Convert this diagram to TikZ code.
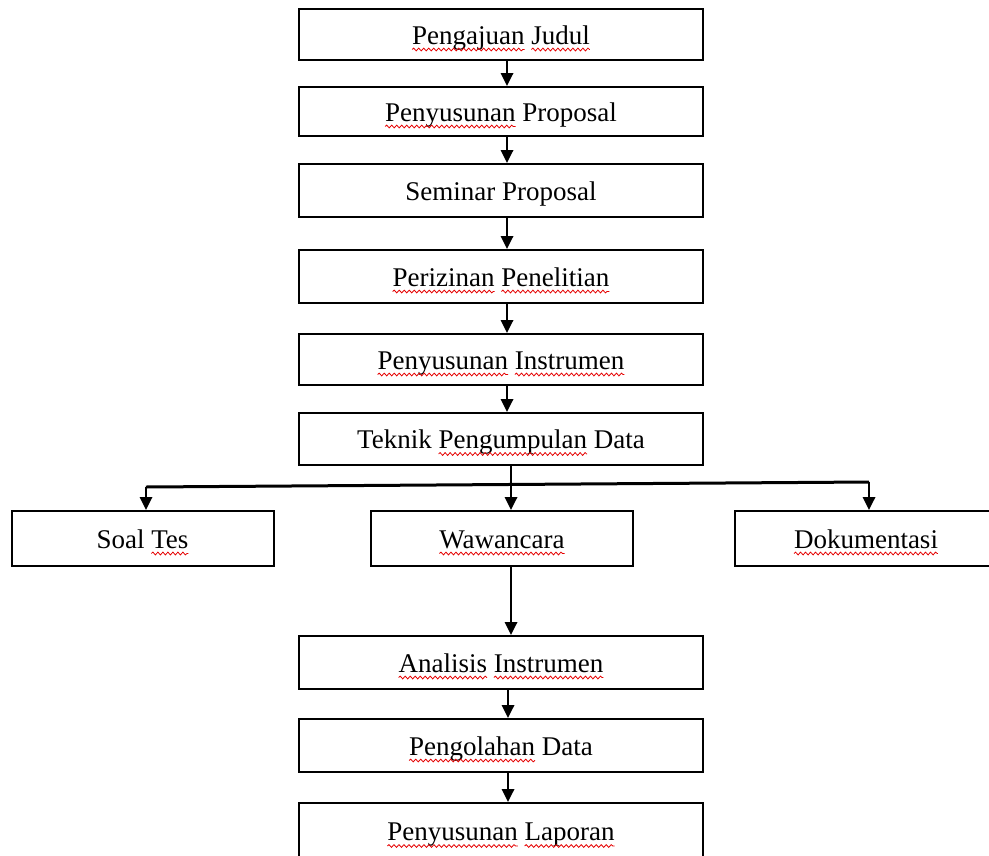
\documentclass[tikz,border=0pt]{standalone}
\usepackage{fontspec}
\setmainfont{Liberation Serif}
\usetikzlibrary{arrows.meta,decorations.pathmorphing}
\newcommand\sq[1]{\tikz[baseline=(w.base),x=1pt,y=1pt]{\node[draw=none,inner sep=0pt,outer sep=0pt,minimum width=0pt,minimum height=0pt,text height=,text depth=,anchor=base,line width=0.7pt] (w) at (0,0) {#1};\draw[overlay,red!90!black,line width=0.8pt,decorate,decoration={snake,amplitude=1.4pt,segment length=5pt}] ([yshift=-5.5pt]w.base west) -- ([yshift=-5.5pt]w.base east);}}
\tikzset{
  box/.style={draw=black, line width=2pt, inner sep=0pt, align=center,
    text height=20pt, text depth=1pt,
    font=\fontsize{27}{30}\selectfont},
  wide/.style={box, minimum width=404pt},
  small/.style={box, minimum width=262pt, minimum height=55pt},
  arr/.style={line width=1.8pt, -{Triangle[width=12.5pt,length=13pt]}},
  bar/.style={line width=3pt}
}
\begin{document}
\begin{tikzpicture}[x=1pt,y=-1pt]
\useasboundingbox (0,0) rectangle (989,855);
\clip (0,0) rectangle (989,855);
\node[wide, minimum height=51pt] (n1) at (501,34.5) {\sq{Pengajuan} \sq{Judul}};
\node[wide, minimum height=49pt] (n2) at (501,111.5) {\sq{Penyusunan} Proposal};
\node[wide, minimum height=53pt] (n3) at (501,190.5) {Seminar Proposal};
\node[wide, minimum height=53pt] (n4) at (501,276.5) {\sq{Perizinan} \sq{Penelitian}};
\node[wide, minimum height=51pt] (n5) at (501,359.5) {\sq{Penyusunan} \sq{Instrumen}};
\node[wide, minimum height=52pt] (n6) at (501,439) {Teknik \sq{Pengumpulan} Data};
\node[small] (soal) at (142.5,538.5) {Soal \sq{Tes}};
\node[small] (waw) at (502,538.5) {\sq{Wawancara}};
\node[small] (dok) at (866,538.5) {\sq{Dokumentasi}};
\node[wide, minimum height=53pt] (n7) at (501,662.5) {\sq{Analisis} \sq{Instrumen}};
\node[wide, minimum height=53pt] (n8) at (501,745.5) {\sq{Pengolahan} Data};
\node[wide, minimum height=56pt] (n9) at (501,831) {\sq{Penyusunan} \sq{Laporan}};

\coordinate (ax) at (507,0);
\coordinate (tx) at (511,0);
\coordinate (bx) at (508,0);
\coordinate (hl) at (146,487);
\coordinate (hr) at (869,482);

\draw[arr] (n1.south -| ax) -- (n2.north -| ax);
\draw[arr] (n2.south -| ax) -- (n3.north -| ax);
\draw[arr] (n3.south -| ax) -- (n4.north -| ax);
\draw[arr] (n4.south -| ax) -- (n5.north -| ax);
\draw[arr] (n5.south -| ax) -- (n6.north -| ax);

\draw[bar] (hl) -- (hr);
\draw[arr] (n6.south -| tx) -- (waw.north -| tx);
\draw[arr] (hl) -- (soal.north -| hl);
\draw[arr] (hr) -- (dok.north -| hr);

\draw[arr] (waw.south -| tx) -- (n7.north -| tx);
\draw[arr] (n7.south -| bx) -- (n8.north -| bx);
\draw[arr] (n8.south -| bx) -- (n9.north -| bx);
\end{tikzpicture}
\end{document}
